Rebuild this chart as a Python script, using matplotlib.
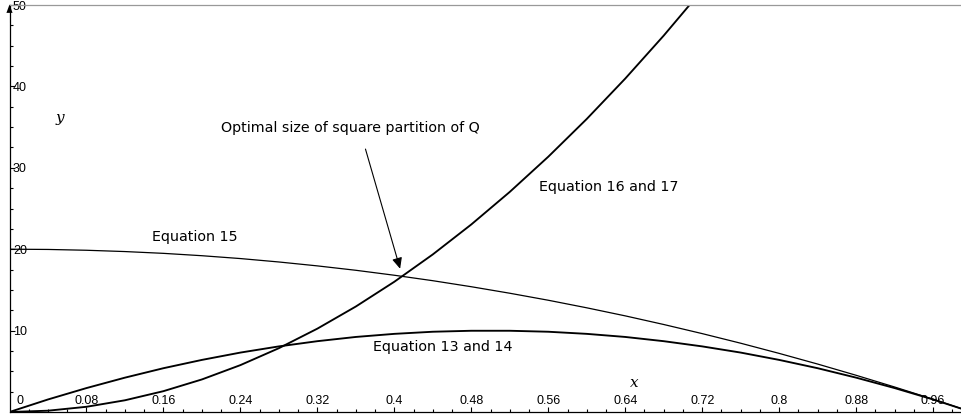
import matplotlib
matplotlib.use("Agg")
import matplotlib.pyplot as plt

# ---- data ----
x = [0.00, 0.04, 0.08, 0.12, 0.16, 0.20, 0.24, 0.28, 0.32, 0.36, 0.40, 0.44, 0.48,
     0.52, 0.56, 0.60, 0.64, 0.68, 0.72, 0.76, 0.80, 0.84, 0.88, 0.92, 0.96, 1.00]
eq15 = [20.0, 19.97, 19.87, 19.71, 19.49, 19.2, 18.85, 18.43, 17.95, 17.41, 16.8, 16.13,
        15.39, 14.59, 13.73, 12.8, 11.81, 10.75, 9.63, 8.45, 7.2, 5.89, 4.51, 3.07, 1.57, 0.0]
eq13_14 = [0.0, 1.54, 2.94, 4.22, 5.38, 6.4, 7.3, 8.06, 8.7, 9.22, 9.6, 9.86, 9.98,
           9.98, 9.86, 9.6, 9.22, 8.7, 8.06, 7.3, 6.4, 5.38, 4.22, 2.94, 1.54, 0.0]
x16 = x[:19]
eq16_17 = [0.0, 0.16, 0.64, 1.44, 2.56, 4.0, 5.76, 7.84, 10.24, 12.96, 16.0, 19.36,
           23.04, 27.04, 31.36, 36.0, 40.96, 46.24, 51.84]

xticks = [0.08, 0.16, 0.24, 0.32, 0.4, 0.48, 0.56, 0.64, 0.72, 0.8, 0.88, 0.96]
xticklabels = ["0.08", "0.16", "0.24", "0.32", "0.4", "0.48", "0.56", "0.64",
               "0.72", "0.8", "0.88", "0.96"]
yticks = [10, 20, 30, 40, 50]
yticklabels = ["10", "20", "30", "40", "50"]

fig = plt.figure(figsize=(9.61, 4.15), dpi=100)
ax = fig.add_axes([9.5 / 961, 3 / 415, 1 - 9.5 / 961, 407 / 415])
ax.set_xlim(0, 0.989)
ax.set_ylim(0, 50)

ax.plot(x, eq15, color="black", lw=0.9)
ax.plot(x, eq13_14, color="black", lw=1.35)
ax.plot(x16, eq16_17, color="black", lw=1.35)

ax.spines["right"].set_visible(False)
ax.spines["top"].set_color("#999999")
ax.spines["top"].set_linewidth(0.9)
ax.spines["left"].set_linewidth(0.9)
ax.spines["bottom"].set_linewidth(0.9)

tickfont = "Liberation Sans"
ax.set_xticks(xticks)
ax.set_xticklabels(xticklabels, fontfamily=tickfont, fontsize=9)
ax.set_xticks([i * 0.02 for i in range(1, 50) if i % 4 != 0], minor=True)
ax.set_yticks(yticks)
ax.set_yticklabels(yticklabels, fontfamily=tickfont, fontsize=9)
ax.set_yticks([i * 2.5 for i in range(1, 20) if i % 4 != 0], minor=True)

ax.tick_params(axis="both", which="major", direction="in", length=3.5, width=0.8)
ax.tick_params(axis="both", which="minor", direction="in", length=2, width=0.8)
ax.tick_params(axis="x", which="major", pad=-5.8)
ax.tick_params(axis="y", which="major", pad=-2.5)
for lab in ax.get_xticklabels():
    lab.set_verticalalignment("baseline")
for lab in ax.get_yticklabels():
    lab.set_horizontalalignment("left")

ax.text(0.011, 1.0, "0", fontfamily=tickfont, fontsize=9, ha="center", va="baseline")

# y-axis arrow head
ax.annotate("", xy=(0, 50.4), xytext=(0, 47.5),
            arrowprops=dict(arrowstyle="-|>,head_length=0.6,head_width=0.22",
                            color="black", lw=0.01, mutation_scale=10),
            annotation_clip=False)

# axis labels
ax.text(0.052, 36.1, "y", fontfamily="DejaVu Serif", style="italic", fontsize=11,
        ha="center", va="center")
ax.text(0.649, 3.6, "x", fontfamily="DejaVu Serif", style="italic", fontsize=11,
        ha="center", va="center")

# annotations
tf = "DejaVu Sans"
fs = 10.3
ax.text(0.354, 34.9, "Optimal size of square partition of Q", fontfamily=tf,
        fontsize=fs, ha="center", va="center")
ax.annotate("", xy=(0.406, 17.6), xytext=(0.370, 32.3),
            arrowprops=dict(arrowstyle="-|>,head_length=0.65,head_width=0.3",
                            color="black", lw=0.8, mutation_scale=10,
                            shrinkA=0, shrinkB=0))
ax.text(0.193, 21.5, "Equation 15", fontfamily=tf, fontsize=fs, ha="center", va="center")
ax.text(0.623, 27.6, "Equation 16 and 17", fontfamily=tf, fontsize=fs,
        ha="center", va="center")
ax.text(0.450, 8.0, "Equation 13 and 14", fontfamily=tf, fontsize=fs,
        ha="center", va="center")

fig.savefig("out.png", dpi=100)
